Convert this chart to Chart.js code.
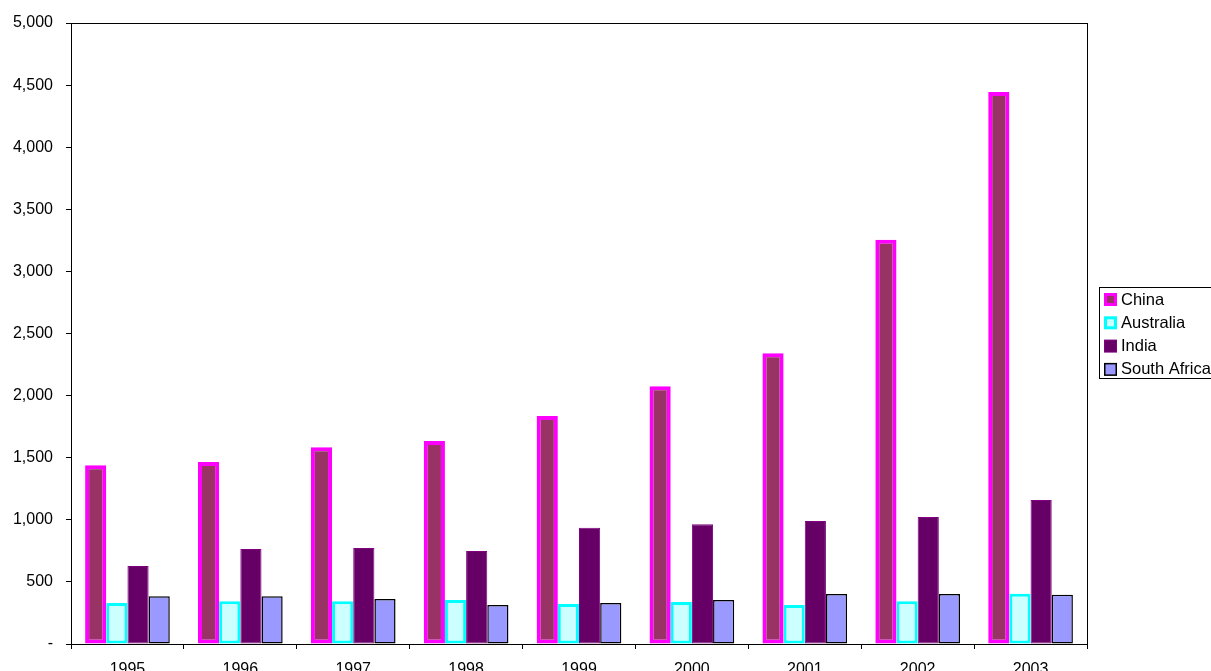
<!DOCTYPE html>
<html lang="en">
<head>
  <meta charset="UTF-8">
  <title>Imports by country</title>
  <script src="https://cdn.jsdelivr.net/npm/chart.js"></script>
  <style>
    html, body { margin: 0; padding: 0; background: #fff; overflow: hidden; }
    #chart { display: block; }
  </style>
</head>
<body>
  <canvas id="chart" width="1211" height="671"></canvas>
  <script>
    const years = ['1995', '1996', '1997', '1998', '1999', '2000', '2001', '2002', '2003'];
    const china = [1440, 1465, 1585, 1635, 1835, 2075, 2340, 3255, 4445];
    const australia = [330, 345, 345, 355, 322, 338, 315, 345, 405];
    const india = [628, 765, 773, 748, 935, 965, 990, 1022, 1160];
    const southAfrica = [385, 385, 362, 314, 330, 355, 403, 403, 397];

    const FONT = 'Liberation Sans, Arial, sans-serif';

    // box round the plot area
    const frame = {
      id: 'frame',
      afterDatasetsDraw(chart) {
        const a = chart.chartArea, ctx = chart.ctx;
        ctx.save();
        ctx.strokeStyle = '#000';
        ctx.lineWidth = 1;
        ctx.strokeRect(a.left + 0.5, a.top + 0.5, a.right - a.left, a.bottom - a.top);
        ctx.restore();
      }
    };

    // legend box drawn at the right, like the original
    const sideLegend = {
      id: 'sideLegend',
      afterDraw(chart) {
        const ctx = chart.ctx;
        const x0 = 1099, y0 = 287;
        ctx.save();
        ctx.fillStyle = '#fff';
        ctx.fillRect(x0, y0, 130, 91);
        ctx.strokeStyle = '#000';
        ctx.lineWidth = 1;
        ctx.strokeRect(x0 + 0.5, y0 + 0.5, 130, 91);
        ctx.font = '16.5px ' + FONT;
        ctx.textBaseline = 'middle';
        chart.data.datasets.forEach((ds, i) => {
          const cy = y0 + 12 + i * 23.3;
          const bw = Math.min(ds.borderWidth, 3);
          ctx.fillStyle = ds.borderColor;
          ctx.fillRect(x0 + 5, cy - 6, 13, 13);
          ctx.fillStyle = ds.backgroundColor;
          ctx.fillRect(x0 + 5 + bw, cy - 6 + bw, 13 - 2 * bw, 13 - 2 * bw);
          ctx.fillStyle = '#000';
          ctx.fillText(ds.label, x0 + 22, cy + 1);
        });
        ctx.restore();
      }
    };

    new Chart(document.getElementById('chart'), {
      type: 'bar',
      data: {
        labels: years,
        datasets: [
          { label: 'China', data: china, backgroundColor: '#993366', borderColor: '#ff00ff', borderWidth: 4, borderSkipped: false },
          { label: 'Australia', data: australia, backgroundColor: '#ccffff', borderColor: '#00ffff', borderWidth: 3, borderSkipped: false },
          { label: 'India', data: india, backgroundColor: '#660066', borderColor: '#800080', borderWidth: 1, borderSkipped: false },
          { label: 'South Africa', data: southAfrica, backgroundColor: '#9999ff', borderColor: '#000000', borderWidth: 1.5, borderSkipped: false }
        ]
      },
      options: {
        responsive: false,
        animation: false,
        categoryPercentage: 0.75,
        barPercentage: 1.0,
        layout: { padding: { top: 23, right: 124, bottom: 0, left: 0 } },
        plugins: { legend: { display: false }, tooltip: { enabled: false } },
        scales: {
          x: {
            grid: { display: true, drawOnChartArea: false, offset: true, color: '#000', tickLength: 5 },
            border: { display: true, color: '#000' },
            ticks: { color: '#000', font: { family: FONT, size: 16 }, padding: 11, maxRotation: 0 },
            afterFit(scale) { scale.height = 27; }
          },
          y: {
            min: 0,
            max: 5000,
            grid: { display: true, drawOnChartArea: false, color: '#000', tickLength: 5 },
            border: { display: true, color: '#000' },
            ticks: {
              stepSize: 500,
              color: '#000',
              padding: 13,
              font: { family: FONT, size: 16 },
              callback: v => v === 0 ? '-' : v.toLocaleString('en-US')
            },
            afterFit(scale) { scale.width = 71; }
          }
        }
      },
      plugins: [frame, sideLegend]
    });
  </script>
</body>
</html>
